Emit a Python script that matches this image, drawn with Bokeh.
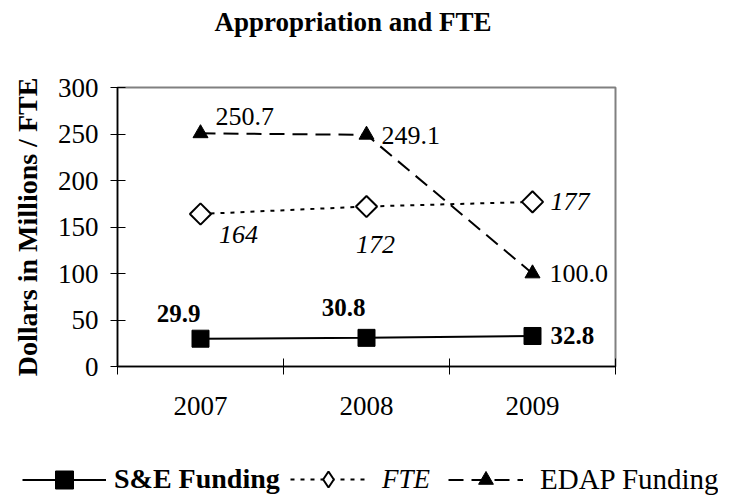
import math
from bokeh.plotting import figure
from bokeh.layouts import column, row
from bokeh.models import (ColumnDataSource, FixedTicker, Legend, LegendItem, Range1d, Title)
from bokeh.core.properties import value
from bokeh.embed import file_html
from bokeh.resources import INLINE

# ---- data ----
years = ["2007", "2008", "2009"]
se_funding = [29.9, 30.8, 32.8]
fte = [164, 172, 177]
edap_funding = [250.7, 249.1, 100.0]
y_ticks = [0, 50, 100, 150, 200, 250, 300]
series_names = ["S&E Funding", "FTE", "EDAP Funding"]
chart_title = "Appropriation and FTE"
y_title = "Dollars in Millions / FTE"

FONT = "Liberation Serif"
W = 718

xs = list(range(1, len(years) + 1))

p = figure(width=W, height=425, output_backend="svg", toolbar_location=None,
           x_range=Range1d(0.5, len(years) + 0.5), y_range=Range1d(0, 300),
           min_border_left=117, min_border_right=W - 615, min_border_top=87,
           min_border_bottom=425 - 366)
# spacer between frame and title, so the title sits at the top of the page
p.add_layout(Title(text=" ", text_font_size="10px", standoff=31), "above")
p.title = Title(text=chart_title, align="left", offset=97, standoff=10,
                vertical_align="top",
                text_font=FONT, text_font_size="27px", text_font_style="bold",
                text_color="black")
p.xgrid.visible = False
p.ygrid.visible = False
p.outline_line_color = "#808080"
p.outline_line_width = 2
p.background_fill_color = "white"
p.border_fill_color = "white"

# x axis
p.xaxis.ticker = FixedTicker(ticks=xs, minor_ticks=[i + 0.5 for i in range(len(years) + 1)])
p.xaxis.major_label_overrides = {x: y for x, y in zip(xs, years)}
p.xaxis.major_tick_in = 0
p.xaxis.major_tick_out = 0
p.xaxis.minor_tick_in = 8
p.xaxis.minor_tick_out = 8
p.xaxis.minor_tick_line_color = "black"
p.xaxis.major_label_text_font = FONT
p.xaxis.major_label_text_font_size = "27px"
p.xaxis.major_label_text_color = "black"
p.xaxis.major_label_standoff = 22
p.xaxis.axis_line_color = "black"
p.xaxis.axis_line_width = 1.5

# y axis
p.yaxis.ticker = FixedTicker(ticks=y_ticks)
p.yaxis.major_tick_in = 8
p.yaxis.major_tick_out = 7
p.yaxis.minor_tick_line_color = None
p.yaxis.major_label_text_font = FONT
p.yaxis.major_label_text_font_size = "27px"
p.yaxis.major_label_text_color = "black"
p.yaxis.major_label_standoff = 12
p.yaxis.axis_line_color = "black"
p.yaxis.axis_line_width = 1.5
p.yaxis.axis_label = y_title
p.yaxis.axis_label_text_font = FONT
p.yaxis.axis_label_text_font_size = "28px"
p.yaxis.axis_label_text_font_style = "bold"
p.yaxis.axis_label_text_color = "black"
p.yaxis.axis_label_standoff = 12

# styles
se_line_kw = dict(line_color="black", line_width=2)
fte_line_kw = dict(line_color="black", line_width=2, line_dash="4 6")
edap_line_kw = dict(line_color="black", line_width=2, line_dash="15 8")

# series
p.line(xs, se_funding, **se_line_kw)
p.scatter(xs, se_funding, marker="square", size=17, fill_color="black", line_color="black")

p.line(xs, fte, **fte_line_kw)
p.scatter(xs, fte, marker="square", angle=math.pi / 4, size=15,
          fill_color="white", line_color="black", line_width=2)

p.line(xs, edap_funding, **edap_line_kw)
p.scatter(xs, edap_funding, marker="triangle", size=15, fill_color="black", line_color="black")

# data labels
se_src = ColumnDataSource(dict(x=xs, y=se_funding, t=[f"{v:.1f}" for v in se_funding],
                               dx=[-22, -23, 18], dy=[-25, -30, 0],
                               al=["center", "center", "left"]))
p.text("x", "y", text="t", source=se_src, x_offset="dx", y_offset="dy", text_align="al",
       text_baseline="middle", text_font=value(FONT), text_font_size="25px",
       text_font_style="bold", text_color="black")

fte_src = ColumnDataSource(dict(x=xs, y=fte, t=[f"{v:d}" for v in fte],
                                dx=[38, 9, 18], dy=[21, 38, 0],
                                al=["center", "center", "left"]))
p.text("x", "y", text="t", source=fte_src, x_offset="dx", y_offset="dy", text_align="al",
       text_baseline="middle", text_font=value(FONT), text_font_size="26px",
       text_font_style="italic", text_color="black")

edap_src = ColumnDataSource(dict(x=xs, y=edap_funding, t=[f"{v:.1f}" for v in edap_funding],
                                 dx=[15, 15, 17], dy=[-17, 1, 0],
                                 al=["left", "left", "left"]))
p.text("x", "y", text="t", source=edap_src, x_offset="dx", y_offset="dy", text_align="al",
       text_baseline="middle", text_font=value(FONT), text_font_size="26px",
       text_color="black")

# ---- legend strip (separate figure so every entry keeps its own font style) ----
# The series are drawn again here only so the legend has glyphs to show; the
# y range lies far above the data, so nothing but the legend keys is visible.
LH = 70
lf = figure(width=W, height=LH, output_backend="svg", toolbar_location=None,
            x_range=Range1d(0.5, len(years) + 0.5), y_range=Range1d(1000, 1001),
            x_axis_type=None, y_axis_type=None,
            min_border_left=0, min_border_right=0, min_border_top=0, min_border_bottom=0)
lf.xgrid.visible = False
lf.ygrid.visible = False
lf.outline_line_color = None
lf.background_fill_color = "white"
lf.border_fill_color = "white"

l_se = [lf.line(xs, se_funding, **se_line_kw),
        lf.scatter(xs, se_funding, marker="square",
                   fill_color="black", line_color="black")]
l_fte = [lf.line(xs, fte, **fte_line_kw),
         lf.scatter(xs, fte, marker="diamond",
                    fill_color="white", line_color="black", line_width=2)]
l_edap = [lf.line(xs, edap_funding, **edap_line_kw),
          lf.scatter(xs, edap_funding, marker="triangle",
                     fill_color="black", line_color="black")]

LEG_CY = 16  # vertical centre of the legend row, px above the strip's bottom


def add_legend(label, renderers, x, glyph_w, glyph_h, standoff, style, fsize):
    lg = Legend(items=[LegendItem(label=label, renderers=renderers)],
                location=(x, LEG_CY - glyph_h / 2 if glyph_h > 30 else LEG_CY - 15),
                orientation="horizontal", glyph_width=glyph_w, glyph_height=glyph_h,
                label_standoff=standoff, padding=0, margin=0, spacing=0,
                border_line_color=None, background_fill_alpha=0,
                label_text_font=FONT, label_text_font_size=fsize,
                label_text_font_style=style, label_text_color="black",
                label_height=20)
    lf.add_layout(lg, "center")


add_legend(series_names[0], l_se, 22, 84, 45, 8, "bold", "28px")
add_legend(series_names[1], l_fte, 290, 76, 40, 16, "italic", "27px")
add_legend(series_names[2], l_edap, 448, 75, 37, 17, "normal", "29px")

open("out.html", "w").write(file_html(column(p, row(lf), spacing=0), INLINE))
